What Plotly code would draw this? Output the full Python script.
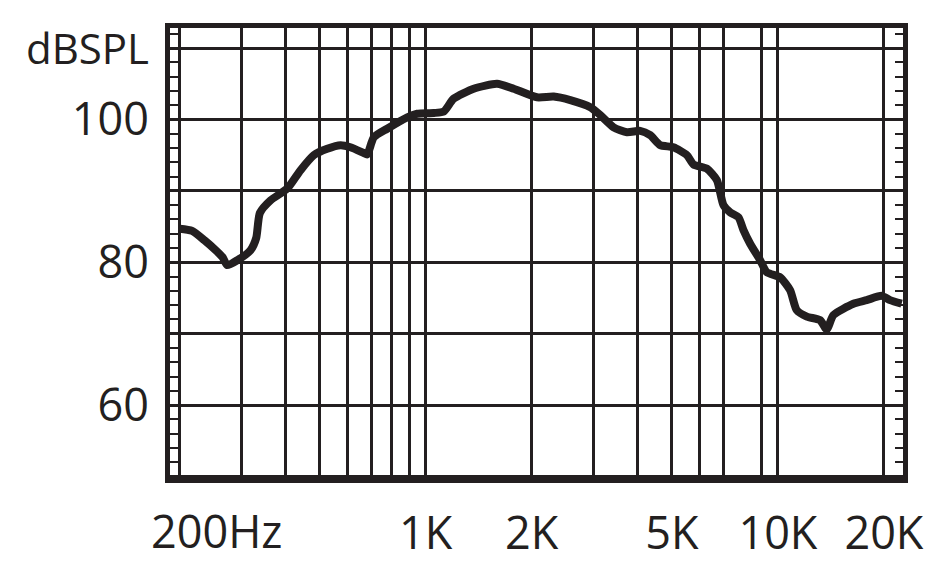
import math
import plotly.graph_objects as go

## response curve
freq_hz = [200, 217, 235, 253, 265, 273, 292, 318, 330, 338, 363, 404, 441, 481,
           525, 573, 611, 667, 682, 712, 777, 886, 945, 1054, 1125, 1200, 1368,
           1594, 1777, 2070, 2308, 2573, 2933, 3130, 3415, 3727, 4066, 4339,
           4632, 5053, 5514, 5759, 6285, 6710, 7005, 7318, 7727, 7984, 8341,
           8903, 9301, 10140, 10830, 11310, 12080, 13170, 13760, 14370, 16380,
           17870, 19710, 20820, 22460]
level_db = [84.7, 84.4, 83.1, 81.7, 80.7, 79.6, 80.3, 81.7, 83.4, 86.9, 88.7, 90.3,
            92.9, 95.0, 95.9, 96.4, 96.1, 95.3, 95.1, 97.5, 98.7, 100.3, 100.8,
            100.9, 101.1, 102.9, 104.3, 105.0, 104.3, 103.1, 103.2, 102.7, 101.7,
            100.6, 98.9, 98.2, 98.4, 97.8, 96.4, 96.1, 95.0, 93.7, 93.1, 91.5,
            88.0, 87.0, 86.3, 84.5, 82.6, 80.3, 78.6, 77.9, 76.1, 73.3, 72.4,
            71.9, 70.6, 72.6, 74.2, 74.7, 75.3, 74.7, 74.2]

## axis grid and labels
x_grid = [200, 300, 400, 500, 600, 700, 800, 900, 1000, 2000, 3000, 4000,
          5000, 6000, 7000, 9000, 10000, 20000]
x_labels = {1000: "1K", 2000: "2K", 5000: "5K", 10000: "10K", 20000: "20K"}
y_grid = [50, 60, 70, 80, 90, 100, 110]
y_labels = {60: "60", 80: "80", 100: "100",
            110: "<span style='font-size:42px'>dBSPL</span>"}

ink = "#231f20"
font = "Open Sans"

fig = go.Figure()
fig.add_trace(go.Scatter(x=freq_hz, y=level_db, mode="lines",
                         line=dict(color=ink, width=8, shape="spline", smoothing=0.6),
                         hoverinfo="skip"))

# "200Hz" sits with the number over its grid line
fig.add_annotation(text="200Hz", x=math.log10(200), xref="x", y=0, yref="paper",
                   xanchor="left", yanchor="top", xshift=-31, yshift=-20,
                   showarrow=False, font=dict(family=font, size=45, color=ink))

fig.update_layout(
    width=942, height=574,
    margin=dict(l=170, r=39, t=28, b=96),
    paper_bgcolor="white", plot_bgcolor="white",
    showlegend=False,
    font=dict(family=font, size=45, color=ink),
    xaxis=dict(type="log", range=[math.log10(187.8), math.log10(22660)],
               tickvals=x_grid, ticktext=[x_labels.get(v, "") for v in x_grid],
               showgrid=True, gridcolor=ink, gridwidth=2.5,
               showline=True, linecolor=ink, linewidth=5, mirror=True,
               ticks="", ticklabelstandoff=12, zeroline=False, automargin=False),
    yaxis=dict(range=[49.8, 112.8],
               tickvals=y_grid, ticktext=[y_labels.get(v, "") for v in y_grid],
               showgrid=True, gridcolor=ink, gridwidth=2.5,
               showline=True, linecolor=ink, linewidth=5, mirror="ticks",
               ticks="", ticklabelstandoff=7, zeroline=False, automargin=False,
               minor=dict(dtick=2, ticks="inside", ticklen=8, tickwidth=1.5,
                          tickcolor=ink, showgrid=False)),
)

# no page margin, so the 942x574 figure fills the window exactly
fig.write_html("out.html", config={"displayModeBar": False},
               post_script="document.body.style.margin='0';")
